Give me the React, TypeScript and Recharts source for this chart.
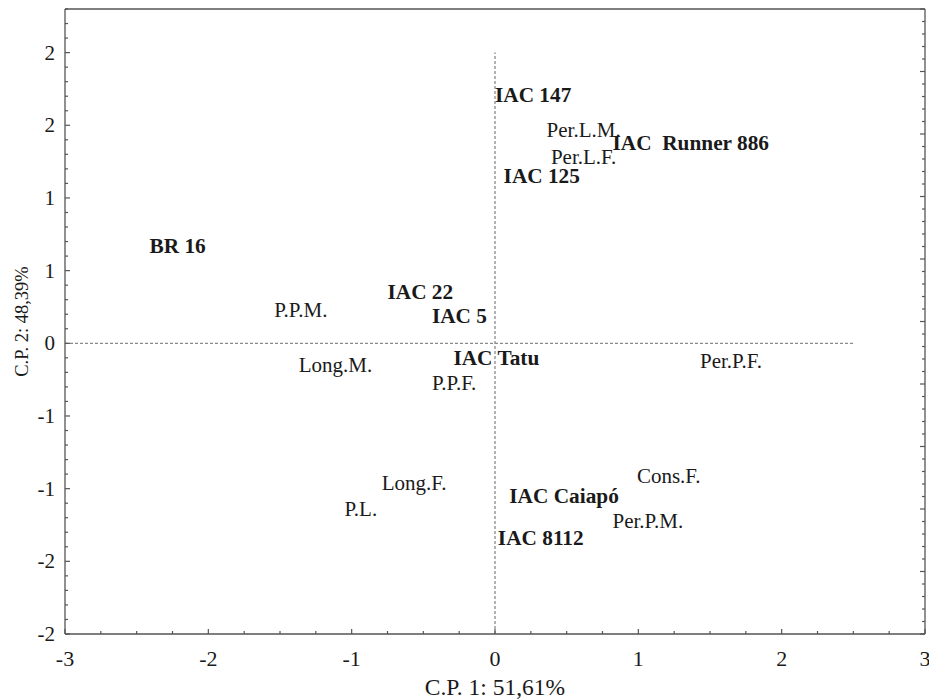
import React from "react";
import { ScatterChart, Scatter, XAxis, YAxis, ReferenceLine, Label } from "recharts";

// labels of the biplot: cultivars (bold) and variables (regular)
const labelNames = [
	"IAC 147",
	"Per.L.M.",
	"IAC  Runner 886",
	"Per.L.F.",
	"IAC 125",
	"BR 16",
	"IAC 22",
	"P.P.M.",
	"IAC 5",
	"IAC Tatu",
	"Long.M.",
	"P.P.F.",
	"Per.P.F.",
	"Long.F.",
	"P.L.",
	"IAC Caiapó",
	"Cons.F.",
	"Per.P.M.",
	"IAC 8112",
];
const pc1 = [0.0, 0.36, 0.82, 0.39, 0.06, -2.41, -0.75, -1.54, -0.44, -0.29, -1.37, -0.44, 1.43, -0.79, -1.05, 0.1, 0.99, 0.82, 0.02];
const pc2 = [1.71, 1.47, 1.38, 1.28, 1.15, 0.67, 0.35, 0.23, 0.19, -0.1, -0.15, -0.27, -0.12, -0.96, -1.14, -1.05, -0.91, -1.22, -1.34];
const isCultivar = [true, false, true, false, true, true, true, false, true, true, false, false, false, false, false, true, false, false, true];

const xMajorTicks = [-3, -2, -1, 0, 1, 2, 3];
const xTickLabels = ["-3", "-2", "-1", "0", "1", "2", "3"];
const yMajorTicks = [2, 1.5, 1, 0.5, 0, -0.5, -1, -1.5, -2];
const yTickLabels = ["2", "2", "1", "1", "0", "-1", "-1", "-2", "-2"];

const data = labelNames.map((name, i) => ({ name, x: pc1[i], y: pc2[i], bold: isCultivar[i] }));

const steps = (from: number, to: number, step: number) => {
	const out: number[] = [];
	for (let v = from; v <= to + 1e-9; v += step) out.push(Math.round(v * 1000) / 1000);
	return out;
};

const FONT = "'Liberation Serif', 'Times New Roman', serif";
const AXIS = "#555";
const INK = "#1a1a1a";
const near = (a: number, b: number) => Math.abs(a - b) < 1e-6;

const BottomTick = (props: any) => {
	const { x, y, payload } = props;
	const i = xMajorTicks.findIndex((t) => near(t, payload.value));
	const major = i >= 0;
	return (
		<g>
			<line x1={x} x2={x} y1={y} y2={y - (major ? 5 : 3)} stroke={AXIS} strokeWidth={1.2} />
			{major && (
				<text x={x} y={y + 24} textAnchor="middle" dominantBaseline="central" fontFamily={FONT} fontSize={22} fill={INK}>
					{xTickLabels[i]}
				</text>
			)}
		</g>
	);
};

const LeftTick = (props: any) => {
	const { x, y, payload } = props;
	const i = yMajorTicks.findIndex((t) => near(t, payload.value));
	const major = i >= 0;
	return (
		<g>
			<line x1={x} x2={x + (major ? 5 : 3)} y1={y} y2={y} stroke={AXIS} strokeWidth={1.2} />
			{major && (
				<text x={x - 10} y={y} textAnchor="end" dominantBaseline="central" fontFamily={FONT} fontSize={21} fill={INK}>
					{yTickLabels[i]}
				</text>
			)}
		</g>
	);
};

const TopTick = (props: any) => {
	const { x, y, payload } = props;
	const major = near(payload.value, Math.round(payload.value));
	return <line x1={x} x2={x} y1={y} y2={y + (major ? 5 : 3)} stroke={AXIS} strokeWidth={1.2} />;
};

const RightTick = (props: any) => {
	const { x, y, payload } = props;
	const major = near(payload.value, Math.round(payload.value));
	return <line x1={x} x2={x - (major ? 5 : 3)} y1={y} y2={y} stroke={AXIS} strokeWidth={1.2} />;
};

const PointLabel = (props: any) => {
	const { cx, cy, payload } = props;
	return (
		<text
			x={cx}
			y={cy}
			dominantBaseline="central"
			fontFamily={FONT}
			fontSize={payload.bold ? 21.3 : 21}
			fontWeight={payload.bold ? "bold" : "normal"}
			fill={INK}
			style={{ whiteSpace: "pre" }}>
			{payload.name}
		</text>
	);
};

export default function App() {
	// absolute wrapper so the 929x700 chart fits the window without scrollbars
	return (
		<div style={{ position: "absolute", left: 0, top: 0, width: 929, height: 700 }}>
			<ScatterChart width={929} height={700} margin={{ top: 8, right: 3, bottom: 0, left: 8 }}>
				<XAxis
					xAxisId="b"
					type="number"
					dataKey="x"
					domain={[-3, 3]}
					allowDataOverflow
					ticks={steps(-3, 3, 0.25)}
					interval={0}
					tickSize={0}
					tickMargin={0}
					tickLine={false}
					tick={<BottomTick />}
					height={66}
					axisLine={{ stroke: AXIS, strokeWidth: 1.3 }}>
					<Label
						content={(p: any) => {
							const vb = p.viewBox;
							return (
								<text x={vb.x + vb.width / 2} y={vb.y + 61} textAnchor="middle" fontFamily={FONT} fontSize={23.5} fill={INK}>
									C.P. 1: 51,61%
								</text>
							);
						}}
					/>
				</XAxis>
				<XAxis
					xAxisId="t"
					orientation="top"
					type="number"
					domain={[0, 8]}
					allowDataOverflow
					ticks={steps(0, 8, 0.25)}
					interval={0}
					tickSize={0}
					tickMargin={0}
					tickLine={false}
					tick={<TopTick />}
					height={1}
					axisLine={{ stroke: AXIS, strokeWidth: 1.3 }}
				/>
				<YAxis
					yAxisId="l"
					type="number"
					dataKey="y"
					domain={[-2, 2.3]}
					allowDataOverflow
					ticks={steps(-2, 2.3, 0.1)}
					interval={0}
					tickSize={0}
					tickMargin={0}
					tickLine={false}
					tick={<LeftTick />}
					width={57}
					axisLine={{ stroke: AXIS, strokeWidth: 1.3 }}>
					<Label
						content={(p: any) => {
							const vb = p.viewBox;
							const cx = vb.x + 14;
							const cy = vb.y + vb.height / 2;
							return (
								<text
									x={cx}
									y={cy}
									transform={`rotate(-90 ${cx} ${cy})`}
									textAnchor="middle"
									dominantBaseline="central"
									fontFamily={FONT}
									fontSize={18.5}
									fill={INK}>
									C.P. 2: 48,39%
								</text>
							);
						}}
					/>
				</YAxis>
				<YAxis
					yAxisId="r"
					orientation="right"
					type="number"
					domain={[0, 10]}
					allowDataOverflow
					ticks={steps(0, 10, 0.2)}
					interval={0}
					tickSize={0}
					tickMargin={0}
					tickLine={false}
					tick={<RightTick />}
					width={1}
					axisLine={{ stroke: AXIS, strokeWidth: 1.3 }}
				/>
				<ReferenceLine
					xAxisId="b"
					yAxisId="l"
					segment={[{ x: 0, y: -2 }, { x: 0, y: 2 }]}
					stroke="#8a8a8a"
					strokeWidth={1.3}
					strokeDasharray="3 2"
				/>
				<ReferenceLine
					xAxisId="b"
					yAxisId="l"
					segment={[{ x: -3, y: 0 }, { x: 2.5, y: 0 }]}
					stroke="#8a8a8a"
					strokeWidth={1.3}
					strokeDasharray="3 2"
				/>
				<Scatter xAxisId="b" yAxisId="l" data={data} shape={<PointLabel />} isAnimationActive={false} />
			</ScatterChart>
		</div>
	);
}
